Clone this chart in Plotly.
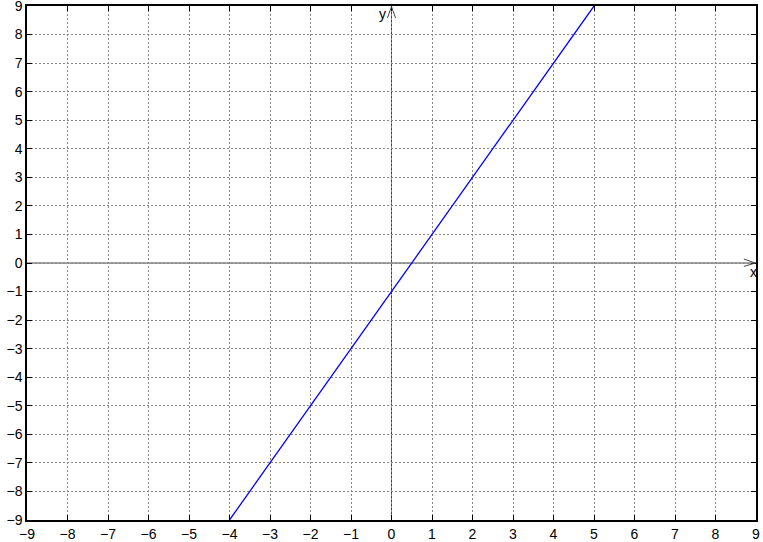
import plotly.graph_objects as go

# data
line_x = [-4, 5]
line_y = [-9, 9]
tick_vals = list(range(-9, 10))
axis_range = [-9, 9]

fig = go.Figure()
fig.add_trace(go.Scatter(x=line_x, y=line_y, mode="lines",
                         line=dict(color="#0000ff", width=1.3),
                         showlegend=False, hoverinfo="skip", cliponaxis=False))

axcol = "#444444"
shapes = [
    dict(type="line", xref="x", yref="y", x0=-9, y0=0, x1=9, y1=0,
         line=dict(color=axcol, width=1), layer="below"),
    dict(type="path", xref="x", yref="y",
         path="M 8.7,0.14 L 8.98,0 L 8.7,-0.12",
         line=dict(color=axcol, width=1)),
    dict(type="line", xref="x", yref="y", x0=0, y0=-9, x1=0, y1=9,
         line=dict(color=axcol, width=1), layer="below"),
    dict(type="path", xref="x", yref="y",
         path="M -0.1,8.58 L 0,8.98 L 0.1,8.58",
         line=dict(color=axcol, width=1)),
]

annotations = [
    dict(x=8.95, y=-0.3, xref="x", yref="y", text="x", showarrow=False,
         font=dict(size=14, color="black", family="Liberation Sans")),
    dict(x=-0.22, y=8.72, xref="x", yref="y", text="y", showarrow=False,
         font=dict(size=14, color="black", family="Liberation Sans")),
]

common = dict(range=axis_range, tickvals=tick_vals, showgrid=True,
              gridcolor="#888888", griddash="2px,2px", gridwidth=1,
              zeroline=False, showline=True, linecolor="black", linewidth=1.5,
              mirror="ticks", ticks="inside", ticklen=5, tickcolor="black",
              tickwidth=1, automargin=False, ticklabeloverflow="allow",
              tickfont=dict(size=14, color="black", family="Liberation Sans"))

fig.update_layout(
    width=763, height=542,
    margin=dict(l=27, r=7, t=6, b=22),
    paper_bgcolor="white", plot_bgcolor="white",
    xaxis=dict(**common),
    yaxis=dict(**common),
    shapes=shapes, annotations=annotations,
)

fig.write_html("out.html", config={"displayModeBar": False},
               post_script="document.body.style.margin='0';document.body.style.padding='0';document.body.style.overflow='hidden';")
